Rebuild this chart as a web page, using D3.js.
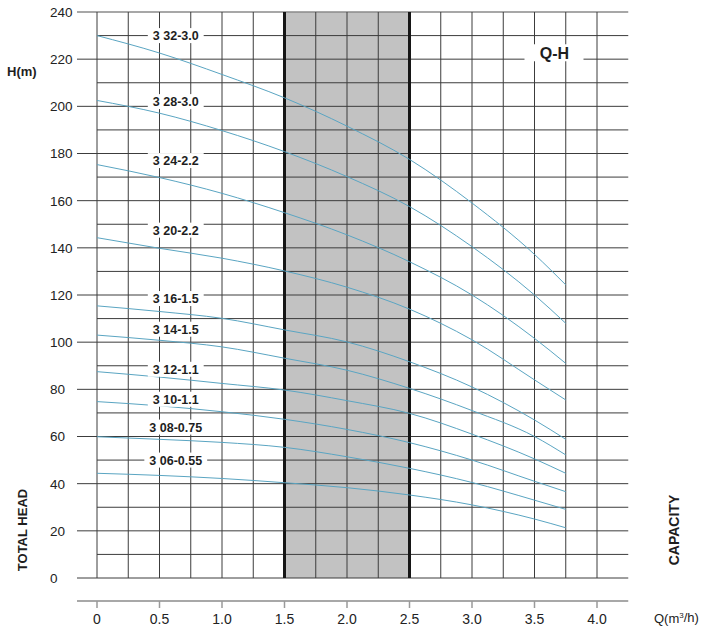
<!DOCTYPE html>
<html>
<head>
<meta charset="utf-8">
<script src="https://cdn.jsdelivr.net/npm/d3@7"></script>
<style>
  html, body { margin: 0; padding: 0; background: #fff; }
  svg { display: block; font-family: "Liberation Sans", Arial, sans-serif; }
</style>
</head>
<body>
<svg id="chart" width="703" height="631"></svg>
<script>
// ---------------- DATA ----------------
const flowQ = [0, 0.5, 1.0, 1.5, 2.0, 2.5, 3.0, 3.5, 3.75];   // m3/h

const head_3_32 = [230, 222.6, 213.5, 203.6, 191.6, 177.5, 159.0, 137.2, 124.3];
const head_3_28 = [202.5, 197.1, 189.7, 180.8, 170.2, 157.5, 140.5, 120.0, 108.0];
const head_3_24 = [175.3, 169.8, 163.1, 154.9, 145.5, 134.1, 120.0, 101.6, 91.0];
const head_3_20 = [144.3, 139.8, 135.6, 130.2, 123.3, 114.0, 101.0, 84.0, 75.5];
const head_3_16 = [115.4, 113.0, 110.1, 105.2, 100.1, 91.7, 81.0, 67.0, 58.8];
const head_3_14 = [103.0, 100.8, 98.0, 93.2, 88.1, 80.4, 71.0, 60.0, 52.2];
const head_3_12 = [87.5, 85.2, 82.5, 79.7, 75.2, 69.8, 61.0, 50.5, 44.4];
const head_3_10 = [74.8, 73.0, 70.5, 67.3, 63.0, 57.4, 50.0, 41.0, 36.6];
const head_3_08 = [59.9, 58.8, 57.5, 55.4, 51.4, 46.5, 40.5, 33.0, 29.1];
const head_3_06 = [44.4, 43.5, 42.2, 40.4, 38.3, 35.2, 31.0, 25.0, 21.3];

const modelNames = ["3 32-3.0", "3 28-3.0", "3 24-2.2", "3 20-2.2", "3 16-1.5",
                    "3 14-1.5", "3 12-1.1", "3 10-1.1", "3 08-0.75", "3 06-0.55"];
const modelHeads = [head_3_32, head_3_28, head_3_24, head_3_20, head_3_16,
                    head_3_14, head_3_12, head_3_10, head_3_08, head_3_06];
// label anchors (Q, H) in data units
const labelQ = 0.63;
const labelH = [230, 202, 177, 147.5, 118.5, 105.5, 88.5, 75.8, 64, 50];

const dutyRange = [1.5, 2.5];
const yTicks = [0, 20, 40, 60, 80, 100, 120, 140, 160, 180, 200, 220, 240];
const xTicks = [0, 0.5, 1.0, 1.5, 2.0, 2.5, 3.0, 3.5, 4.0];
const xTickLabels = ["0", "0.5", "1.0", "1.5", "2.0", "2.5", "3.0", "3.5", "4.0"];

// ---------------- CHART ----------------
const svg = d3.select("#chart");
const x = d3.scaleLinear().domain([0, 4.25]).range([97, 628.25]);
const y = d3.scaleLinear().domain([0, 240]).range([578, 12]);
const leftExt = 77;

svg.append("rect").attr("width", 703).attr("height", 631).attr("fill", "#fff");

// duty band
svg.append("rect")
  .attr("x", x(dutyRange[0])).attr("y", y(240))
  .attr("width", x(dutyRange[1]) - x(dutyRange[0]))
  .attr("height", y(0) - y(240))
  .attr("fill", "#c2c2c2");

// horizontal gridlines every 10
const hLines = d3.range(0, 241, 10);
svg.append("g").selectAll("line").data(hLines).join("line")
  .attr("x1", d => (d % 20 === 0 ? leftExt : x(0)))
  .attr("x2", x(4.25))
  .attr("y1", d => y(d)).attr("y2", d => y(d))
  .attr("stroke", d => (d === 240 ? "#8a8a8a" : "#3c3c3c"))
  .attr("stroke-width", d => (d === 240 ? 1.5 : 1));

// vertical gridlines every 0.25
const vLines = d3.range(0, 17).map(i => i * 0.25);
svg.append("g").selectAll("line").data(vLines).join("line")
  .attr("x1", d => x(d)).attr("x2", d => x(d))
  .attr("y1", y(240)).attr("y2", y(0))
  .attr("stroke", d => (d === 4.25 ? "#9a9a9a" : "#3c3c3c"))
  .attr("stroke-width", d => (d === 4.25 ? 1.8 : 1));

// duty band borders
svg.append("g").selectAll("line").data(dutyRange).join("line")
  .attr("x1", d => x(d)).attr("x2", d => x(d))
  .attr("y1", y(240)).attr("y2", y(0))
  .attr("stroke", "#161616").attr("stroke-width", 3);

// curves
const line = d3.line()
  .x((d, i) => x(flowQ[i]))
  .y(d => y(d))
  .curve(d3.curveMonotoneX);
svg.append("g").selectAll("path").data(modelHeads).join("path")
  .attr("d", d => line(d))
  .attr("fill", "none")
  .attr("stroke", "#5aa5c2")
  .attr("stroke-width", 1);

// curve labels with white backgrounds
const lg = svg.append("g");
modelNames.forEach((name, i) => {
  const g = lg.append("g").attr("transform", `translate(${x(labelQ)},${y(labelH[i])})`);
  const t = g.append("text")
    .attr("text-anchor", "middle").attr("dy", "0.36em")
    .attr("font-size", 12.5).attr("font-weight", "bold")
    .attr("fill", "#1e1e1e")
    .text(name);
  const w = t.node().getComputedTextLength();
  g.insert("rect", "text")
    .attr("x", -w / 2 - 5).attr("y", -7.5)
    .attr("width", w + 10).attr("height", 15)
    .attr("fill", "#fff");
});

// Q-H label
const qh = svg.append("g").attr("transform", `translate(${x(3.66)},${y(222.5)})`);
qh.append("rect").attr("x", -30).attr("y", -9).attr("width", 59).attr("height", 17).attr("fill", "#fff");
qh.append("text").attr("text-anchor", "middle").attr("dy", "0.36em")
  .attr("font-size", 16).attr("font-weight", "bold").attr("fill", "#1e1e1e").text("Q-H");

// y tick labels
svg.append("g").selectAll("text").data(yTicks).join("text")
  .attr("x", 50).attr("y", d => y(d)).attr("dy", "0.36em")
  .attr("font-size", 13.5).attr("fill", "#222")
  .text(d => d);

// x axis (separate baseline)
const axisY = 601;
svg.append("line").attr("x1", leftExt).attr("x2", x(4.25))
  .attr("y1", axisY).attr("y2", axisY)
  .attr("stroke", "#a8a8a8").attr("stroke-width", 2);
svg.append("g").selectAll("line").data(xTicks).join("line")
  .attr("x1", d => x(d)).attr("x2", d => x(d))
  .attr("y1", axisY).attr("y2", axisY + 7)
  .attr("stroke", "#9a9a9a").attr("stroke-width", 1.5);
svg.append("g").selectAll("text").data(xTicks).join("text")
  .attr("x", d => x(d)).attr("y", 618.5).attr("dy", "0.36em")
  .attr("text-anchor", "middle")
  .attr("font-size", 14).attr("fill", "#222")
  .text((d, i) => xTickLabels[i]);

// axis titles
svg.append("text").attr("x", 7).attr("y", 71).attr("dy", "0.36em")
  .attr("font-size", 13).attr("font-weight", "bold").attr("fill", "#1e1e1e").text("H(m)");

svg.append("text").attr("transform", "translate(22,530) rotate(-90)")
  .attr("text-anchor", "middle").attr("dy", "0.36em")
  .attr("font-size", 13).attr("font-weight", "bold").attr("fill", "#1e1e1e").text("TOTAL HEAD");

svg.append("text").attr("transform", "translate(674,530) rotate(-90)")
  .attr("text-anchor", "middle").attr("dy", "0.36em")
  .attr("font-size", 14).attr("font-weight", "bold").attr("fill", "#1e1e1e").text("CAPACITY");

const qt = svg.append("text").attr("x", 654).attr("y", 618.5).attr("dy", "0.36em")
  .attr("font-size", 13).attr("fill", "#222");
qt.append("tspan").text("Q(m");
qt.append("tspan").attr("font-size", 8).attr("dy", "-0.6em").text("3");
qt.append("tspan").attr("dy", "0.3em").text("/h)");
</script>
</body>
</html>
